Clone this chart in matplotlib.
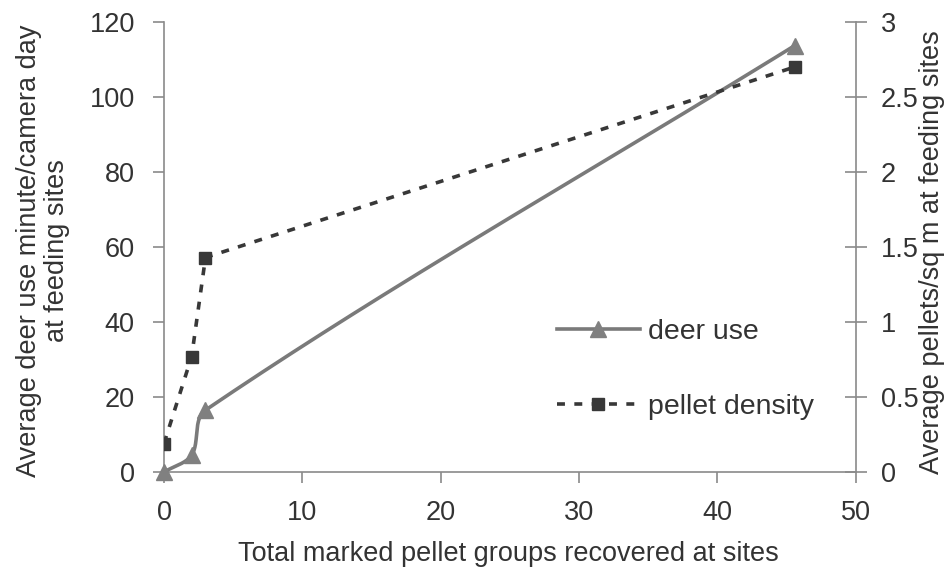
import numpy as np
import matplotlib.pyplot as plt

plt.rcParams['font.family'] = ['Liberation Sans', 'DejaVu Sans']

# datos
grupos = [0, 2, 3, 45.6]
uso_venado = [0, 4.5, 16.5, 113.7]
densidad = [0.19, 0.77, 1.43, 2.70]

# tamano del area de la grafica en pixeles (para suavizar como Excel)
ANCHO, ALTO = 691.5, 450.0


def suavizar(x, y, ymax, n=60):
    # curva Bezier tipo Excel, calculada en pixeles
    px = np.asarray(x, float) / 50 * ANCHO
    py = np.asarray(y, float) / ymax * ALTO
    P = np.column_stack([px, py])
    m = len(P)
    xs, ys = [], []
    for i in range(m - 1):
        a, b = P[i], P[i + 1]
        d = np.linalg.norm(b - a)
        prev = P[i - 1] if i > 0 else a
        nxt = P[i + 2] if i + 2 < m else b
        d_in = np.linalg.norm(a - prev)
        d_out = np.linalg.norm(nxt - b)
        c1 = a + (b - prev) * d / (d_in + d) / 3
        c2 = b - (nxt - a) * d / (d + d_out) / 3
        t = np.linspace(0, 1, n)[:, None]
        q = (1 - t) ** 3 * a + 3 * (1 - t) ** 2 * t * c1 + 3 * (1 - t) * t ** 2 * c2 + t ** 3 * b
        xs.extend(q[:, 0] / ANCHO * 50)
        ys.extend(q[:, 1] / ALTO * ymax)
    return xs, ys


gris = '#7a7a7a'
oscuro = '#383838'
texto = '#333333'
FS = 19.5

fig = plt.figure(figsize=(9.46, 5.74), dpi=100)
ax1 = fig.add_axes([164 / 946, 102 / 574, ANCHO / 946, ALTO / 574])
ax2 = ax1.twinx()

sx, sy = suavizar(grupos, uso_venado, 120)
ax1.plot(sx, sy, color=gris, lw=2.6, zorder=3, clip_on=False)
ax1.plot(grupos, uso_venado, ls='none', marker='^', ms=12, color='#808080', zorder=4, clip_on=False)

guion = (0, (2.2, 2.6))
ax2.plot(grupos, densidad, color=oscuro, lw=2.6, ls=guion, zorder=3)
ax2.plot(grupos, densidad, ls='none', marker='s', ms=8, color=oscuro, zorder=4)

ax1.set_xlim(0, 50)
ax1.set_ylim(0, 120)
ax2.set_ylim(0, 3)
ax1.set_xticks(range(0, 51, 10))
ax1.set_yticks(range(0, 121, 20))
ax2.set_yticks([0, 0.5, 1, 1.5, 2, 2.5, 3])
ax2.set_yticklabels(['0', '0.5', '1', '1.5', '2', '2.5', '3'])

for ax in (ax1, ax2):
    ax.spines['top'].set_visible(False)
    for s in ('left', 'right', 'bottom'):
        ax.spines[s].set_color('#8a8a8a')
        ax.spines[s].set_linewidth(1.2)
    ax.set_facecolor('none')
ax1.spines['right'].set_visible(False)
ax2.spines['left'].set_visible(False)
ax2.spines['bottom'].set_visible(False)

ax1.tick_params(axis='y', colors='#8a8a8a', labelcolor=texto, labelsize=FS, length=8, width=1.2, pad=13)
ax1.tick_params(axis='x', colors='#8a8a8a', labelcolor=texto, labelsize=FS, length=8, width=1.2, pad=12)
ax2.tick_params(axis='y', direction='inout', colors='#8a8a8a', labelcolor=texto, labelsize=FS,
                length=16, width=1.2, pad=10)

fig.text(508 / 946, 1 - 554 / 574, 'Total marked pellet groups recovered at sites',
         fontsize=FS, color=texto, ha='center', va='center')
fig.text(43 / 946, 1 - 251 / 574, 'Average deer use minute/camera day\nat feeding sites',
         fontsize=FS, color=texto, ha='center', va='center', rotation=90, linespacing=1.05)
fig.text(932 / 946, 1 - 252 / 574, 'Average pellets/sq m at feeding sites',
         fontsize=FS, color=texto, ha='center', va='center', rotation=90)

# leyenda
h1, = ax1.plot([], [], color=gris, lw=2.6, marker='^', ms=12, mfc='#808080', mec='#808080')
h2, = ax1.plot([], [], color=oscuro, lw=2.6, ls=guion, marker='s', ms=8)
ax1.legend([h1, h2], ['deer use', 'pellet density'], loc='center left',
           bbox_to_anchor=(557 / 946, 1 - 369.5 / 574), bbox_transform=fig.transFigure,
           frameon=False, fontsize=20.5, labelspacing=1.7, handlelength=2.9,
           handletextpad=0.3, borderpad=0, borderaxespad=0, labelcolor=texto)

fig.savefig('out.png', dpi=100)
